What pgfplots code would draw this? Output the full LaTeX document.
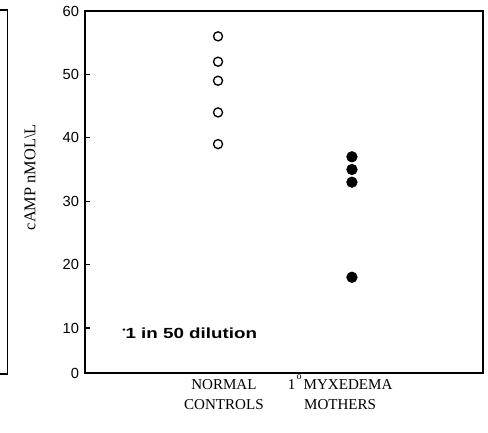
\documentclass[border=0pt]{standalone}
\usepackage{fontspec}
\setmainfont{Liberation Serif}
\newfontfamily\helv{Liberation Sans}
\usepackage{pgfplots}
\pgfplotsset{compat=1.18}
\begin{document}
\begin{tikzpicture}
\begin{axis}[
  scale only axis,
  width=298.5pt, height=271.5pt,
  xmin=0, xmax=4, ymin=2.9, ymax=60,
  axis line style={line width=0.9pt},
  xtick=\empty,
  ytick={2.9,10,20,30,40,50,60},
  yticklabels={0,10,20,30,40,50,60},
  ytick pos=left,
  tick align=inside,
  major tick length=4pt,
  tick style={line width=0.8pt, black},
  yticklabel style={font=\helv\fontsize{11}{12}\selectfont, xshift=-1pt},
  /pgf/number format/assume math mode=true,
  ylabel={cAMP nMOL\textbackslash L},
  ylabel style={at={(rel axis cs:-0.138,0.541)}, anchor=center, font=\fontsize{12.3}{13}\selectfont},
  clip=false,
]
\addplot[only marks, mark=o, mark size=3.4pt, mark options={line width=1pt, black}]
  coordinates {(1.337,56) (1.337,52) (1.337,49) (1.337,44) (1.337,39)};
\addplot[only marks, mark=*, mark size=4pt, mark options={black, fill=black}]
  coordinates {(2.683,37) (2.683,35) (2.683,33) (2.683,18)};
\node[anchor=base, align=center, font=\fontsize{11.3}{15}\selectfont]
  at (rel axis cs:0.349,-0.101) {NORMAL\\CONTROLS};
\node[anchor=base, align=center, font=\fontsize{11.3}{15}\selectfont]
  at (rel axis cs:0.641,-0.101) {1\hspace{1pt}\raisebox{7.6pt}{\fontsize{7.5}{7.5}\selectfont o}\hspace{1.5pt}MYXEDEMA\\MOTHERS};
\node[anchor=west, inner sep=0pt, font=\helv\bfseries\fontsize{11}{12}\selectfont]
  at (axis cs:0.372,9.2) {\scalebox{1.28}[1]{\raisebox{0.7ex}{\scalebox{0.5}{\textbullet}}1 in 50 dilution}};
\draw[line width=0.9pt] (rel axis cs:-0.2136,1.0028) -- (rel axis cs:-0.1947,1.0028) -- (rel axis cs:-0.1947,-0.003) -- (rel axis cs:-0.2136,-0.003);
\coordinate (bl) at (rel axis cs:-0.2136,-0.1657);
\coordinate (tr) at (rel axis cs:1.0126,1.0304);
\end{axis}
\pgfresetboundingbox
\path (bl) rectangle (tr);
\end{tikzpicture}
\end{document}
